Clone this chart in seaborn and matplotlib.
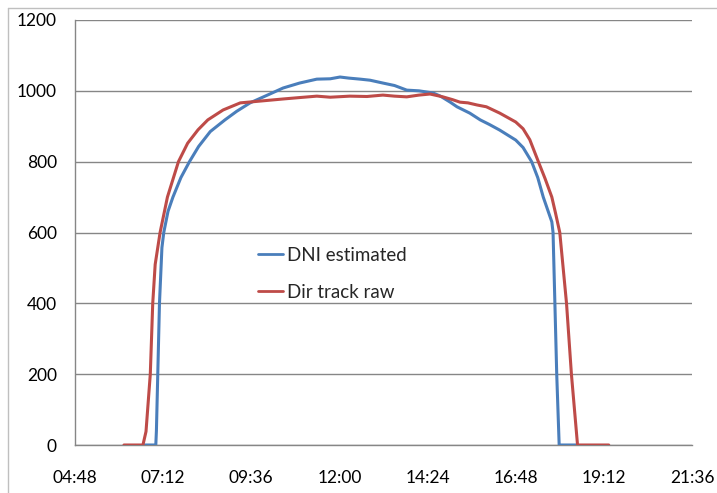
import matplotlib
matplotlib.use("Agg")
import matplotlib.pyplot as plt
from matplotlib.ticker import FuncFormatter, FixedLocator
from matplotlib.lines import Line2D
import seaborn as sns
import pandas as pd

# ---- data (times as HH:MM, values in W/m2) ----
dni_times = ["06:39", "07:00", "07:01", "07:06", "07:10", "07:13", "07:20", "07:28",
             "07:41", "07:55", "08:10", "08:29", "08:53", "09:12",
             "09:34", "10:05", "10:28", "10:55", "11:23", "11:45", "12:01", "12:15",
             "12:34", "12:50", "13:11", "13:30", "13:50", "14:10", "14:33", "14:45",
             "15:01", "15:12", "15:33", "15:50", "16:05", "16:22", "16:48", "17:00",
             "17:14", "17:24", "17:33", "17:41", "17:47", "17:49", "17:52", "17:55",
             "17:59", "18:28"]
dni_values = [0, 0, 40, 400, 557, 600, 660, 700,
              755, 800, 843, 885, 918, 942,
              966, 990, 1008, 1022, 1033, 1034, 1039, 1036,
              1033, 1030, 1022, 1015, 1002, 1000, 994, 985,
              968, 955, 937, 918, 905, 889, 861, 840,
              800, 755, 700, 660, 630, 600, 400, 200,
              0, 0]

dir_times = ["06:08", "06:39", "06:44", "06:51", "06:55", "06:59", "07:07", "07:19",
             "07:37", "07:52", "08:09", "08:25", "08:50", "09:18", "09:50",
             "10:28", "10:55", "11:23", "11:45", "12:17", "12:45", "13:11", "13:30",
             "13:50", "14:10", "14:28", "14:49", "15:05", "15:17", "15:30", "15:45",
             "16:00", "16:22", "16:48", "17:00", "17:11", "17:25", "17:36", "17:47",
             "17:53", "18:00", "18:11", "18:19", "18:29", "19:20"]
dir_values = [0, 0, 38, 200, 400, 510, 600, 700,
              800, 852, 890, 918, 946, 966, 971,
              977, 981, 985, 982, 985, 984, 988, 985,
              983, 988, 991, 983, 975, 968, 966, 960,
              955, 937, 912, 893, 862, 800, 752, 700,
              655, 600, 400, 200, 0, 0]

series_names = ["DNI estimated", "Dir track raw"]
x_ticks_h = [4.8, 7.2, 9.6, 12.0, 14.4, 16.8, 19.2, 21.6]
y_ticks = [0, 200, 400, 600, 800, 1000, 1200]


def to_hours(s):
    h, m = s.split(":")
    return int(h) + int(m) / 60.0


df = pd.concat([
    pd.DataFrame({"t": [to_hours(s) for s in dni_times], "v": dni_values,
                  "series": series_names[0]}),
    pd.DataFrame({"t": [to_hours(s) for s in dir_times], "v": dir_values,
                  "series": series_names[1]}),
], ignore_index=True)

sns.set_theme(style="white")
plt.rcParams["font.family"] = ["Lato", "DejaVu Sans"]

fig = plt.figure(figsize=(7.17, 4.93), dpi=100)
ax = fig.add_axes([75 / 717, 48 / 493, 617 / 717, 425 / 493])

sns.lineplot(data=df, x="t", y="v", hue="series", hue_order=series_names,
             palette=["#4A7EBB", "#BE4B48"], linewidth=2.2, sort=False,
             estimator=None, ax=ax, zorder=3)

ax.set_xlim(4.8, 21.6)
ax.set_ylim(0, 1200)
ax.xaxis.set_major_locator(FixedLocator(x_ticks_h))
ax.yaxis.set_major_locator(FixedLocator(y_ticks))


def fmt_time(x, pos):
    total = int(round(x * 60))
    return f"{total // 60:02d}:{total % 60:02d}"


ax.xaxis.set_major_formatter(FuncFormatter(fmt_time))
ax.set_xlabel("")
ax.set_ylabel("")

gc = "#868686"
ax.yaxis.grid(True, color=gc, linewidth=1.0)
ax.xaxis.grid(False)
for side in ["top", "right"]:
    ax.spines[side].set_visible(False)
for side in ["left", "bottom"]:
    ax.spines[side].set_color(gc)
    ax.spines[side].set_linewidth(1.0)

ax.tick_params(axis="both", which="major", direction="out", length=5, width=1,
               color=gc, labelsize=12.5, labelcolor="#000000")
ax.tick_params(axis="y", pad=8)
ax.tick_params(axis="x", pad=13)

leg = ax.legend(loc="upper left", bbox_to_anchor=(0.296, 0.466), frameon=False,
                fontsize=13.5, handlelength=1.35, handletextpad=0.22,
                labelspacing=1.05, borderpad=0, borderaxespad=0)
for line in leg.get_lines():
    line.set_linewidth(2.0)

# outer chart border (only top and left visible in the reference crop)
fig.add_artist(Line2D([8 / 717, 1.0], [1 - 8 / 493, 1 - 8 / 493],
                      transform=fig.transFigure, color="#BFBFBF", linewidth=1.0))
fig.add_artist(Line2D([8 / 717, 8 / 717], [0, 1 - 8 / 493],
                      transform=fig.transFigure, color="#BFBFBF", linewidth=1.0))

fig.savefig("out.png", dpi=100)
